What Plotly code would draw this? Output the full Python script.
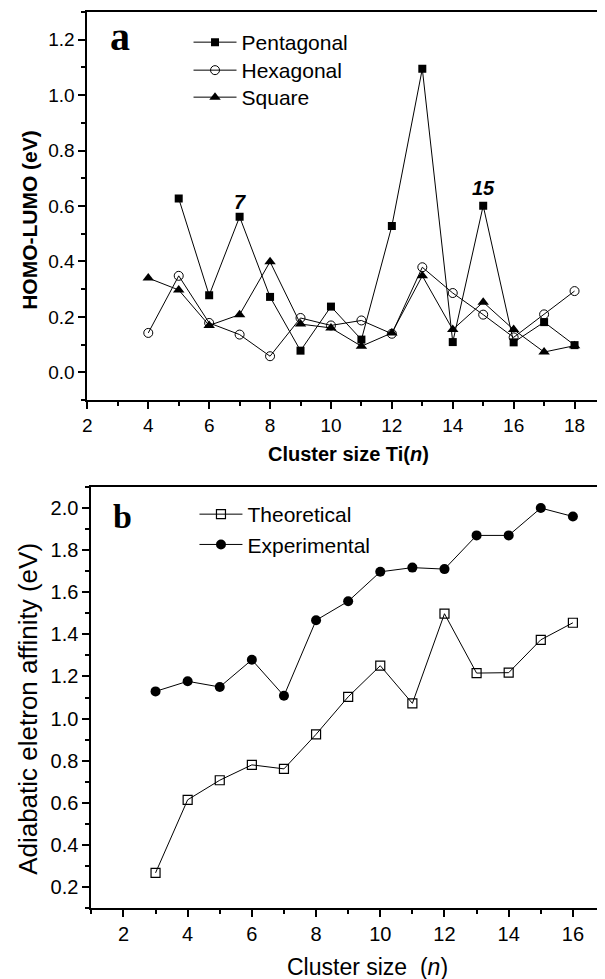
import plotly.graph_objects as go

# Reference canvas size; the browser adds an 8px body margin, so the figure is
# made 8px smaller and positions are measured in reference pixels minus 8.
W, H = 605, 979
OFF = 8
FW, FH = W - OFF, H - OFF

# ---- Panel a data ----
size_a = list(range(4, 19))
pent_x = list(range(5, 19))
pentagonal = [0.627, 0.278, 0.561, 0.272, 0.078, 0.237, 0.118, 0.528, 1.095, 0.109, 0.601, 0.108, 0.181, 0.098]
hexagonal = [0.142, 0.348, 0.178, 0.136, 0.058, 0.196, 0.169, 0.187, 0.139, 0.379, 0.286, 0.208, 0.126, 0.209, 0.293]
square = [0.340, 0.297, 0.169, 0.208, 0.399, 0.174, 0.160, 0.094, 0.142, 0.348, 0.154, 0.253, 0.154, 0.073, 0.096]

# ---- Panel b data ----
size_b = list(range(3, 17))
theoretical = [0.267, 0.614, 0.707, 0.780, 0.761, 0.925, 1.103, 1.251, 1.072, 1.498, 1.216, 1.218, 1.374, 1.455]
experimental = [1.129, 1.177, 1.150, 1.279, 1.108, 1.467, 1.557, 1.697, 1.717, 1.710, 1.870, 1.870, 2.000, 1.960]

FONT = "Arial, Liberation Sans, sans-serif"
SERIF = "Liberation Serif, Times New Roman, serif"
LINE = dict(color="black", width=1)

fig = go.Figure()
fig.add_trace(go.Scatter(x=pent_x, y=pentagonal, name="Pentagonal", mode="lines+markers",
                         line=LINE, marker=dict(symbol="square", size=8, color="black"),
                         xaxis="x", yaxis="y", legend="legend"))
fig.add_trace(go.Scatter(x=size_a, y=hexagonal, name="Hexagonal", mode="lines+markers",
                         line=LINE, marker=dict(symbol="circle-open", size=9, color="black", line=dict(width=1)),
                         xaxis="x", yaxis="y", legend="legend3"))
fig.add_trace(go.Scatter(x=size_a, y=square, name="Square", mode="lines+markers",
                         line=LINE, marker=dict(symbol="triangle-up", size=10, color="black"),
                         xaxis="x", yaxis="y", legend="legend4"))
fig.add_trace(go.Scatter(x=size_b, y=theoretical, name="Theoretical", mode="lines+markers",
                         line=LINE, marker=dict(symbol="square-open", size=9, color="black", line=dict(width=1.2)),
                         xaxis="x2", yaxis="y2", legend="legend2"))
fig.add_trace(go.Scatter(x=size_b, y=experimental, name="Experimental", mode="lines+markers",
                         line=LINE, marker=dict(symbol="circle", size=10, color="black"),
                         xaxis="x2", yaxis="y2", legend="legend2"))


def px_x(p):
    return (p - OFF) / FW


def px_y(p):
    return 1 - (p - OFF) / FH


axis_common = dict(showgrid=False, zeroline=False, showline=True, linecolor="black", linewidth=2,
                   ticks="outside", ticklen=7, tickwidth=1.5, tickcolor="black")
minor_common = dict(ticklen=4, tickwidth=1.5, tickcolor="black", ticks="outside")


def legend_at(x_px, y_px):
    return dict(x=px_x(x_px), y=px_y(y_px), xanchor="left", yanchor="top", bgcolor="rgba(0,0,0,0)",
                font=dict(size=21, family=FONT), itemwidth=43, tracegroupgap=0)


fig.update_layout(
    width=FW, height=FH,
    margin=dict(l=0, r=0, t=0, b=0),
    paper_bgcolor="white", plot_bgcolor="white",
    font=dict(family=FONT, color="black"),
    xaxis=dict(domain=[px_x(83), 1.0], range=[2, 19], dtick=2, tick0=0, mirror=True,
               tickfont=dict(size=19), minor=dict(dtick=1, tick0=0, **minor_common),
               anchor="y", **axis_common),
    yaxis=dict(domain=[px_y(400), px_y(12)], range=[-0.1, 1.3], dtick=0.2, tick0=0, tickformat=".1f",
               tickfont=dict(size=19), minor=dict(dtick=0.1, tick0=0, **minor_common),
               anchor="x", **axis_common),
    xaxis2=dict(domain=[px_x(87), 1.0], range=[1, 17], dtick=2, tick0=0, mirror=True,
                tickfont=dict(size=20), minor=dict(dtick=1, tick0=1, **minor_common),
                anchor="y2", **axis_common),
    yaxis2=dict(domain=[px_y(908), px_y(487)], range=[0.1, 2.1], dtick=0.2, tick0=0, tickformat=".1f",
                tickfont=dict(size=20), minor=dict(dtick=0.1, tick0=0, **minor_common),
                anchor="x2", **axis_common),
    legend=legend_at(185, 22),
    legend3=legend_at(185, 50),
    legend4=legend_at(185, 77),
    legend2=legend_at(191, 494),
    showlegend=True,
)

C = dict(xanchor="center", yanchor="middle", showarrow=False)
annotations = [
    dict(text="<b>a</b>", x=px_x(116), y=px_y(36), xref="paper", yref="paper",
         font=dict(family=SERIF, size=40), **C),
    dict(text="<b>b</b>", x=px_x(118), y=px_y(517), xref="paper", yref="paper",
         font=dict(family=SERIF, size=34), **C),
    dict(text="<b><i>7</i></b>", x=7, y=0.614, xref="x", yref="y", font=dict(size=20), **C),
    dict(text="<b><i>15</i></b>", x=15, y=0.664, xref="x", yref="y", font=dict(size=20), **C),
    dict(text="<b>HOMO-LUMO (eV)</b>", x=px_x(25), y=px_y(220), xref="paper", yref="paper",
         textangle=-90, font=dict(size=21), **C),
    dict(text="<b>Cluster size Ti(<i>n</i>)</b>", x=px_x(346), y=px_y(454), xref="paper", yref="paper",
         font=dict(size=20), **C),
    dict(text="Adiabatic eletron affinity (eV)", x=px_x(23), y=px_y(709), xref="paper", yref="paper",
         textangle=-90, font=dict(size=26), **C),
    dict(text="Cluster size  (<i>n</i>)", x=px_x(365), y=px_y(967), xref="paper", yref="paper",
         font=dict(size=23), **C),
]
fig.update_layout(annotations=annotations)

fig.write_html("out.html")
